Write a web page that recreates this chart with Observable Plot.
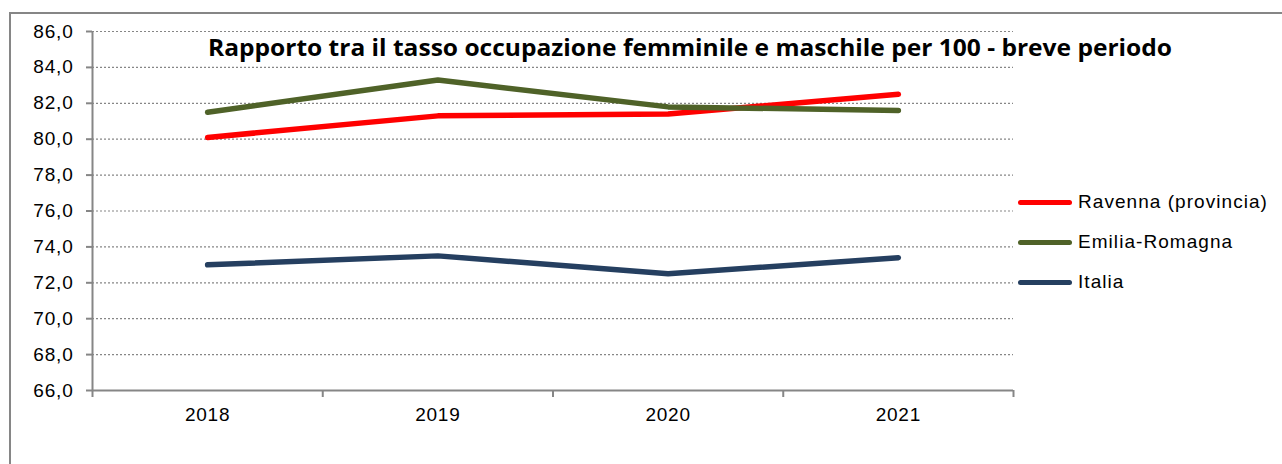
<!DOCTYPE html>
<html>
<head>
<meta charset="utf-8">
<script src="https://cdn.jsdelivr.net/npm/d3@7"></script>
<script src="https://cdn.jsdelivr.net/npm/@observablehq/plot@0.6"></script>
<style>
  html, body { margin: 0; padding: 0; background: #fff; }
  #wrap { position: relative; width: 1282px; height: 464px; overflow: hidden; }
  #border { position: absolute; left: 9px; top: 12px; right: -5px; bottom: -5px;
            border-top: 2px solid #868686; border-left: 2px solid #868686; }
  #chart { position: absolute; left: 0; top: 0; }
  #title { position: absolute; top: 32px; left: 0; white-space: nowrap; transform-origin: 0 0;
           font-family: "Open Sans", Lato, sans-serif; font-weight: 700; font-size: 22.5px; color: #000; }
  #legend { position: absolute; left: 1018px; top: 0; font-family: "Liberation Sans", Arial, sans-serif;
            font-size: 19px; letter-spacing: 1.05px; color: #000; }
  .item { position: absolute; left: 0; display: flex; align-items: center; height: 24px; white-space: nowrap; }
  .swatch { width: 54px; height: 5px; border-radius: 3px; margin-right: 6px; }
</style>
</head>
<body>
<div id="wrap">
  <div id="border"></div>
  <div id="chart"></div>
  <div id="title"></div>
  <div id="legend"></div>
</div>
<script>
const title = "Rapporto tra il tasso occupazione femminile e maschile per 100 - breve periodo";
const years = [2018, 2019, 2020, 2021];
const seriesNames = ["Ravenna (provincia)", "Emilia-Romagna", "Italia"];
const ravenna = [80.1, 81.3, 81.4, 82.5];
const emilia = [81.5, 83.3, 81.8, 81.6];
const italia = [73.0, 73.5, 72.5, 73.4];
const colors = ["#ff0000", "#4f6228", "#253f60"];
const yTicks = [66, 68, 70, 72, 74, 76, 78, 80, 82, 84, 86];

const values = [ravenna, emilia, italia];
const data = [];
seriesNames.forEach((s, i) => years.forEach((y, j) => data.push({series: s, year: y, value: values[i][j]})));
const bounds = [years[0] - 0.5, ...years.map(y => y + 0.5)];
const axisColor = "#868686";

const plot = Plot.plot({
  width: 1282,
  height: 464,
  marginTop: 31,
  marginLeft: 92,
  marginRight: 269,
  marginBottom: 74,
  style: { fontFamily: "'Liberation Sans', Arial, sans-serif", fontSize: "19px", color: "#000", background: "transparent", letterSpacing: "0.8px" },
  x: { domain: [bounds[0], bounds[bounds.length - 1]], label: null },
  y: { domain: [66, 86], label: null },
  color: { domain: seriesNames, range: colors },
  marks: [
    Plot.gridY(yTicks.slice(1), { stroke: axisColor, strokeOpacity: 1, strokeDasharray: "2,2", strokeWidth: 1.2 }),
    Plot.ruleY([yTicks[0]], { stroke: axisColor, strokeWidth: 2 }),
    Plot.ruleX([bounds[0]], { stroke: axisColor, strokeWidth: 2 }),
    Plot.axisY({ ticks: yTicks, label: null, tickSize: 6, tickPadding: 13, stroke: axisColor, strokeWidth: 2,
                 tickFormat: d => d.toFixed(1).replace(".", ","), fill: "#000", fontSize: 19 }),
    Plot.axisX({ ticks: bounds, label: null, tickSize: 7, tickFormat: () => "", stroke: axisColor, strokeWidth: 2 }),
    Plot.axisX({ ticks: years, label: null, tickSize: 0, tickPadding: 17, tickFormat: d => String(d), fill: "#000", fontSize: 19 }),
    Plot.line(data, { x: "year", y: "value", z: "series", stroke: "series", strokeWidth: 5.5, strokeLinecap: "round", strokeLinejoin: "round" })
  ]
});
document.getElementById("chart").appendChild(plot);

// title: fit to the reference width by horizontal scaling
const t = document.getElementById("title");
t.textContent = title;
const targetW = 964;
const w0 = t.getBoundingClientRect().width;
const sx = targetW / w0;
t.style.transform = "scaleX(" + sx + ")";
t.style.left = (690 - targetW / 2) + "px";

// legend
const legend = document.getElementById("legend");
const legendY = [202, 242, 282];
seriesNames.forEach((s, i) => {
  const it = document.createElement("div");
  it.className = "item";
  it.style.top = (legendY[i] - 12) + "px";
  const sw = document.createElement("div");
  sw.className = "swatch";
  sw.style.background = colors[i];
  const tx = document.createElement("span");
  tx.textContent = s;
  it.appendChild(sw); it.appendChild(tx);
  legend.appendChild(it);
});
</script>
</body>
</html>
